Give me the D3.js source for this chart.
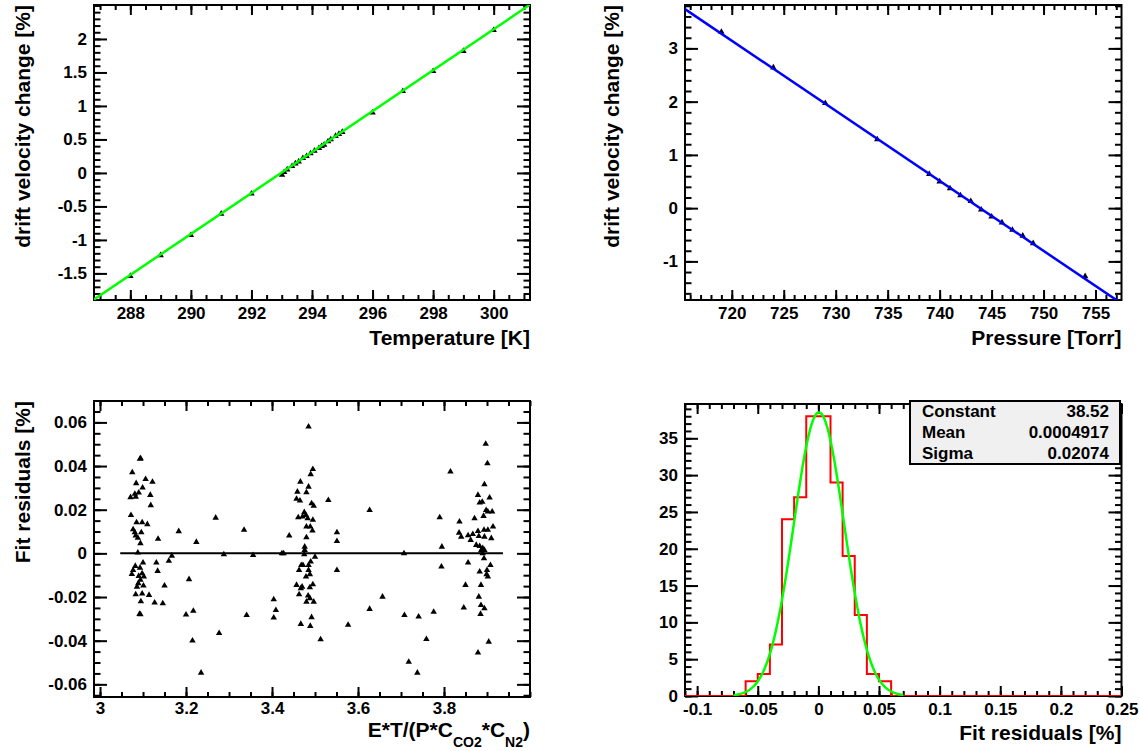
<!DOCTYPE html>
<html>
<head>
<meta charset="utf-8">
<script src="https://cdn.jsdelivr.net/npm/d3@7"></script>
<style>
  body { margin: 0; background: #fff; }
  svg text { font-family: "Liberation Sans", Arial, Helvetica, sans-serif; font-weight: bold; fill: #000; }
</style>
</head>
<body>
<svg id="chart" width="1139" height="751"></svg>
<script>
// ---- Temperature scan: drift velocity change vs temperature ----
const temperature = [288, 289, 290, 291, 292, 293.01, 293.08, 293.18, 293.34, 293.45, 293.56, 293.70, 293.82, 293.95,
  294.08, 294.23, 294.32, 294.40, 294.53, 294.62, 294.78, 294.89, 295.00, 296, 297, 298, 299, 300];
const tempChange = [-1.54, -1.23, -0.93, -0.61, -0.31, -0.03, 0.01, 0.05, 0.10, 0.14, 0.17, 0.22, 0.25, 0.29,
  0.33, 0.37, 0.40, 0.42, 0.47, 0.50, 0.55, 0.58, 0.61, 0.90, 1.22, 1.52, 1.82, 2.13];
const tempFitSlope = 0.3057;   // % per K
const tempFitZero = 292.98;    // K
const tempTicks = [288, 290, 292, 294, 296, 298, 300];
const tempTickLabels = ["288", "290", "292", "294", "296", "298", "300"];
const tempChangeTicks = [-1.5, -1, -0.5, 0, 0.5, 1, 1.5, 2];
const tempChangeTickLabels = ["-1.5", "-1", "-0.5", "0", "0.5", "1", "1.5", "2"];

// ---- Pressure scan: drift velocity change vs pressure ----
const pressure = [719, 724, 729, 734, 739, 740, 741, 742, 743, 744, 745, 746, 747, 748, 749, 754];
const pressChange = [3.31, 2.64, 1.97, 1.29, 0.64, 0.50, 0.37, 0.24, 0.13, -0.03, -0.16, -0.27, -0.41, -0.52, -0.66, -1.28];
const pressFitSlope = -0.1316; // % per Torr
const pressFitZero = 743.9;    // Torr
const pressTicks = [720, 725, 730, 735, 740, 745, 750, 755];
const pressTickLabels = ["720", "725", "730", "735", "740", "745", "750", "755"];
const pressChangeTicks = [-1, 0, 1, 2, 3];
const pressChangeTickLabels = ["-1", "0", "1", "2", "3"];

// ---- Fit residuals vs reduced field E*T/(P*C_CO2*C_N2) ----
const reducedField = [
  3.0945, 3.093, 3.075, 3.106, 3.084, 3.122, 3.099, 3.090, 3.081, 3.071, 3.083, 3.117, 3.118, 3.072, 3.085,
  3.098, 3.110, 3.077, 3.081, 3.096, 3.083, 3.088, 3.183, 3.135, 3.224, 3.094, 3.088, 3.167, 3.160, 3.100,
  3.131, 3.082, 3.093, 3.077, 3.134, 3.074, 3.098, 3.090, 3.102, 3.094, 3.089, 3.101, 3.150, 3.207, 3.086,
  3.083, 3.098, 3.114, 3.095, 3.127, 3.146, 3.092, 3.094, 3.200, 3.217,
  3.269, 3.335, 3.288, 3.215, 3.235, 3.277, 3.341,
  3.577, 3.627, 3.657, 3.627, 3.707, 3.708, 3.718, 3.738, 3.741,
  3.485, 3.495, 3.490, 3.466, 3.485, 3.459, 3.480, 3.457, 3.465, 3.531, 3.492, 3.497, 3.475, 3.479, 3.461,
  3.471, 3.483, 3.495, 3.480, 3.489, 3.494, 3.440, 3.480, 3.551, 3.551, 3.476, 3.476, 3.423, 3.427, 3.356,
  3.475, 3.500, 3.490, 3.472, 3.485, 3.468, 3.463, 3.485, 3.488, 3.479, 3.551, 3.457, 3.470, 3.488, 3.495,
  3.467, 3.463, 3.484, 3.488, 3.480, 3.497, 3.404, 3.409, 3.404, 3.492, 3.467, 3.489, 3.513,
  3.897, 3.901, 3.815, 3.894, 3.879, 3.906, 3.883, 3.889, 3.898, 3.902, 3.912, 3.790, 3.836, 3.871, 3.892,
  3.914, 3.835, 3.840, 3.856, 3.867, 3.879, 3.893, 3.902, 3.881, 3.894, 3.910, 3.862, 3.875, 3.883, 3.890,
  3.886, 3.894, 3.795, 3.890, 3.893, 3.856, 3.794, 3.908, 3.883, 3.900, 3.899, 3.902, 3.850, 3.886, 3.881,
  3.886, 3.894, 3.846, 3.885, 3.776, 3.759, 3.904, 3.879
];
const fitResidual = [
  0.0435, 0.0433, 0.0371, 0.0340, 0.0321, 0.0327, 0.0301, 0.0278, 0.0272, 0.0257, 0.0259, 0.0267, 0.0220, 0.0175, 0.0142,
  0.0142, 0.0133, 0.0110, 0.0096, 0.0096, 0.0081, 0.0071, 0.0101, 0.0066, 0.0052, 0.0046, 0.0003, -0.0011, -0.0035, -0.0043,
  -0.0043, -0.0058, -0.0066, -0.0077, -0.0081, -0.0095, -0.0092, -0.0104, -0.0107, -0.0122, -0.0137, -0.0148, -0.0148, -0.0119, -0.0153,
  -0.0188, -0.0185, -0.0191, -0.0220, -0.0226, -0.0229, -0.0278, -0.0280, -0.0281, -0.0264,
  0.0163, 0.0107, -0.0005, -0.0400, -0.0547, -0.0366, -0.0283,
  -0.0328, -0.0255, -0.0199, 0.0198, 0.0000, -0.0283, -0.0497, -0.0547, -0.0290,
  0.0580, 0.0386, 0.0362, 0.0328, 0.0305, 0.0282, 0.0279, 0.0249, 0.0241, 0.0244, 0.0229, 0.0218, 0.0188, 0.0175, 0.0165,
  0.0168, 0.0160, 0.0153, 0.0122, 0.0122, 0.0104, 0.0081, 0.0073, 0.0096, 0.0056, 0.0030, 0.0015, 0.0000, 0.0000, -0.0008,
  -0.0005, -0.0016, -0.0038, -0.0054, -0.0054, -0.0054, -0.0077, -0.0077, -0.0096, -0.0107, -0.0077, -0.0145, -0.0153, -0.0156, -0.0142,
  -0.0160, -0.0188, -0.0194, -0.0206, -0.0222, -0.0222, -0.0211, -0.0260, -0.0295, -0.0293, -0.0324, -0.0333, -0.0394,
  0.0501, 0.0412, 0.0374, 0.0316, 0.0267, 0.0255, 0.0232, 0.0236, 0.0198, 0.0191, 0.0191, 0.0165, 0.0145, 0.0160, 0.0171,
  0.0122, 0.0094, 0.0076, 0.0082, 0.0088, 0.0102, 0.0107, 0.0107, 0.0079, 0.0076, 0.0069, 0.0061, 0.0038, 0.0033, 0.0023,
  0.0012, 0.0015, 0.0030, 0.0000, -0.0023, -0.0043, -0.0061, -0.0054, -0.0084, -0.0077, -0.0096, -0.0107, -0.0145, -0.0145, -0.0199,
  -0.0237, -0.0252, -0.0249, -0.0278, -0.0268, -0.0393, -0.0405, -0.0455
];
const fieldTicks = [3, 3.2, 3.4, 3.6, 3.8];
const fieldTickLabels = ["3", "3.2", "3.4", "3.6", "3.8"];
const residualTicks = [-0.06, -0.04, -0.02, 0, 0.02, 0.04, 0.06];
const residualTickLabels = ["-0.06", "-0.04", "-0.02", "0", "0.02", "0.04", "0.06"];
const zeroLineRange = [3.047, 3.937];

// ---- Distribution of fit residuals with Gaussian fit ----
const histLowEdge = -0.06;
const histBinWidth = 0.01;
const histCounts = [2, 3, 7, 24, 27, 38, 38, 29, 19, 11, 3, 2];
const gausConstant = 38.52;
const gausMean = 0.0004917;
const gausSigma = 0.02074;
const gausRange = [-0.07, 0.07];
const statsNames = ["Constant", "Mean", "Sigma"];
const statsValues = ["38.52", "0.0004917", "0.02074"];
const histTicks = [-0.1, -0.05, 0, 0.05, 0.1, 0.15, 0.2, 0.25];
const histTickLabels = ["-0.1", "-0.05", "0", "0.05", "0.1", "0.15", "0.2", "0.25"];
const countTicks = [0, 5, 10, 15, 20, 25, 30, 35];
const countTickLabels = ["0", "5", "10", "15", "20", "25", "30", "35"];

const svg = d3.select("#chart");
const TICK_FONT = 17, TITLE_FONT = 21;

// Builds a framed panel with inward ticks on all four sides.
function makePanel(id, box, xDomain, yDomain, ax) {
  const x = d3.scaleLinear().domain(xDomain).range([box.l, box.r]);
  const y = d3.scaleLinear().domain(yDomain).range([box.b, box.t]);
  const g = svg.append("g");

  svg.append("clipPath").attr("id", id).append("rect")
    .attr("x", box.l).attr("y", box.t).attr("width", box.r - box.l).attr("height", box.b - box.t);

  const xt = 10, yt = 13;
  const xPad = ax.xPad == null ? 7 : ax.xPad;
  const styleAxis = sel => {
    sel.select(".domain").remove();
    sel.attr("font-size", TICK_FONT).attr("font-family", null);
    sel.selectAll("line").attr("stroke", "#000").attr("stroke-width", 2);
  };
  const xMinor = d3.range(ax.xMinorStart, xDomain[1] + 1e-9, ax.xMinorStep);
  const yMinor = d3.range(ax.yMinorStart, yDomain[1] + 1e-9, ax.yMinorStep);

  // bottom
  g.append("g").attr("transform", `translate(0,${box.b})`)
    .call(d3.axisBottom(x).tickValues(ax.xTicks).tickSizeInner(-xt).tickSizeOuter(0).tickPadding(xPad)
      .tickFormat((d, i) => ax.xLabels[i])).call(styleAxis);
  g.append("g").attr("transform", `translate(0,${box.b})`)
    .call(d3.axisBottom(x).tickValues(xMinor).tickSizeInner(-xt / 2).tickSizeOuter(0).tickFormat("")).call(styleAxis);
  // top
  g.append("g").attr("transform", `translate(0,${box.t})`)
    .call(d3.axisTop(x).tickValues(ax.xTicks).tickSizeInner(-xt).tickSizeOuter(0).tickFormat("")).call(styleAxis);
  g.append("g").attr("transform", `translate(0,${box.t})`)
    .call(d3.axisTop(x).tickValues(xMinor).tickSizeInner(-xt / 2).tickSizeOuter(0).tickFormat("")).call(styleAxis);
  // left
  g.append("g").attr("transform", `translate(${box.l},0)`)
    .call(d3.axisLeft(y).tickValues(ax.yTicks).tickSizeInner(-yt).tickSizeOuter(0).tickPadding(7)
      .tickFormat((d, i) => ax.yLabels[i])).call(styleAxis);
  g.append("g").attr("transform", `translate(${box.l},0)`)
    .call(d3.axisLeft(y).tickValues(yMinor).tickSizeInner(-yt / 2).tickSizeOuter(0).tickFormat("")).call(styleAxis);
  // right
  g.append("g").attr("transform", `translate(${box.r},0)`)
    .call(d3.axisRight(y).tickValues(ax.yTicks).tickSizeInner(-yt).tickSizeOuter(0).tickFormat("")).call(styleAxis);
  g.append("g").attr("transform", `translate(${box.r},0)`)
    .call(d3.axisRight(y).tickValues(yMinor).tickSizeInner(-yt / 2).tickSizeOuter(0).tickFormat("")).call(styleAxis);

  // frame
  g.append("rect").attr("x", box.l).attr("y", box.t).attr("width", box.r - box.l).attr("height", box.b - box.t)
    .attr("fill", "none").attr("stroke", "#000").attr("stroke-width", 2);

  const plot = svg.append("g").attr("clip-path", `url(#${id})`);
  return { x, y, plot };
}

function yTitle(text, xBase, yEnd) {
  svg.append("text").attr("transform", `translate(${xBase},${yEnd}) rotate(-90)`)
    .attr("text-anchor", "end").attr("font-size", TITLE_FONT).text(text);
}
function xTitle(text, xEnd, yBase) {
  svg.append("text").attr("x", xEnd).attr("y", yBase).attr("text-anchor", "end")
    .attr("font-size", TITLE_FONT).text(text);
}

const tri = d3.symbol().type(d3.symbolTriangle).size(18);

// ===== Panel 1: temperature =====
{
  const box = { l: 94, r: 530, t: 5, b: 300 };
  const p = makePanel("clipT", box, [286.8, 301.2], [-1.897, 2.507], {
    xTicks: tempTicks, xLabels: tempTickLabels, xMinorStart: 287, xMinorStep: 0.5,
    yTicks: tempChangeTicks, yLabels: tempChangeTickLabels, yMinorStart: -1.8, yMinorStep: 0.1
  });
  p.plot.selectAll("path.pt").data(temperature).enter().append("path")
    .attr("d", tri).attr("fill", "#000")
    .attr("transform", (d, i) => `translate(${p.x(d)},${p.y(tempChange[i])})`);
  const xs = p.x.domain();
  p.plot.append("line")
    .attr("x1", p.x(xs[0])).attr("y1", p.y(tempFitSlope * (xs[0] - tempFitZero)))
    .attr("x2", p.x(xs[1])).attr("y2", p.y(tempFitSlope * (xs[1] - tempFitZero)))
    .attr("stroke", "#00ff00").attr("stroke-width", 2.5);
  yTitle("drift velocity change [%]", 29.5, 5);
  xTitle("Temperature [K]", 530, 345);
}

// ===== Panel 2: pressure =====
{
  const box = { l: 685, r: 1121.5, t: 5, b: 300 };
  const p = makePanel("clipP", box, [715.5, 757.5], [-1.725, 3.815], {
    xTicks: pressTicks, xLabels: pressTickLabels, xMinorStart: 716, xMinorStep: 1,
    yTicks: pressChangeTicks, yLabels: pressChangeTickLabels, yMinorStart: -1.6, yMinorStep: 0.2
  });
  p.plot.selectAll("path.pt").data(pressure).enter().append("path")
    .attr("d", tri).attr("fill", "#000")
    .attr("transform", (d, i) => `translate(${p.x(d)},${p.y(pressChange[i])})`);
  const xs = p.x.domain();
  p.plot.append("line")
    .attr("x1", p.x(xs[0])).attr("y1", p.y(pressFitSlope * (xs[0] - pressFitZero)))
    .attr("x2", p.x(xs[1])).attr("y2", p.y(pressFitSlope * (xs[1] - pressFitZero)))
    .attr("stroke", "#0000ff").attr("stroke-width", 2.5);
  yTitle("drift velocity change [%]", 619, 5);
  xTitle("Pressure [Torr]", 1121.5, 345);
}

// ===== Panel 3: residuals vs reduced field =====
{
  const box = { l: 94, r: 530, t: 401, b: 697 };
  const p = makePanel("clipR", box, [2.986, 4.0], [-0.0658, 0.0698], {
    xTicks: fieldTicks, xLabels: fieldTickLabels, xMinorStart: 3.0, xMinorStep: 0.05, xPad: 5,
    yTicks: residualTicks, yLabels: residualTickLabels, yMinorStart: -0.065, yMinorStep: 0.005
  });
  p.plot.selectAll("path.pt").data(reducedField).enter().append("path")
    .attr("d", tri).attr("fill", "#000")
    .attr("transform", (d, i) => `translate(${p.x(d)},${p.y(fitResidual[i])})`);
  p.plot.append("line")
    .attr("x1", p.x(zeroLineRange[0])).attr("y1", p.y(0))
    .attr("x2", p.x(zeroLineRange[1])).attr("y2", p.y(0))
    .attr("stroke", "#000").attr("stroke-width", 2);
  yTitle("Fit residuals [%]", 30, 401);
  const t = svg.append("text").attr("x", 530).attr("y", 737).attr("text-anchor", "end").attr("font-size", TITLE_FONT);
  t.append("tspan").text("E*T/(P*C");
  t.append("tspan").attr("dy", 10).attr("font-size", 14).text("CO2");
  t.append("tspan").attr("dy", -10).text("*C");
  t.append("tspan").attr("dy", 10).attr("font-size", 14).text("N2");
  t.append("tspan").attr("dy", -10).text(")");
}

// ===== Panel 4: residual histogram =====
{
  const box = { l: 685, r: 1121.5, t: 404, b: 696 };
  const p = makePanel("clipH", box, [-0.11, 0.25], [0, 39.66], {
    xTicks: histTicks, xLabels: histTickLabels, xMinorStart: -0.11, xMinorStep: 0.01,
    yTicks: countTicks, yLabels: countTickLabels, yMinorStart: 0, yMinorStep: 1
  });
  // step outline of the histogram, empty bins at zero
  const xs = p.x.domain();
  const pts = [[xs[0], 0], [histLowEdge, 0]];
  histCounts.forEach((c, i) => {
    const lo = histLowEdge + i * histBinWidth;
    pts.push([lo, c], [lo + histBinWidth, c]);
  });
  pts.push([histLowEdge + histCounts.length * histBinWidth, 0], [xs[1], 0]);
  p.plot.append("path")
    .attr("d", d3.line().x(d => p.x(d[0])).y(d => p.y(d[1]))(pts))
    .attr("fill", "none").attr("stroke", "#ff0000").attr("stroke-width", 2);
  // Gaussian fit
  const gx = d3.range(gausRange[0], gausRange[1] + 1e-9, (gausRange[1] - gausRange[0]) / 200);
  p.plot.append("path")
    .attr("d", d3.line().x(d => p.x(d))
      .y(d => p.y(gausConstant * Math.exp(-0.5 * Math.pow((d - gausMean) / gausSigma, 2))))(gx))
    .attr("fill", "none").attr("stroke", "#00ff00").attr("stroke-width", 2.5);

  // fit statistics box
  const sb = { l: 910, t: 401, r: 1120, b: 464 };
  svg.append("rect").attr("x", sb.l).attr("y", sb.t).attr("width", sb.r - sb.l).attr("height", sb.b - sb.t)
    .attr("fill", "#f0f0f0").attr("stroke", "#000").attr("stroke-width", 2);
  statsNames.forEach((n, i) => {
    svg.append("text").attr("x", 922).attr("y", 417 + i * 21).attr("font-size", TICK_FONT).text(n);
    svg.append("text").attr("x", 1109).attr("y", 417 + i * 21).attr("font-size", TICK_FONT)
      .attr("text-anchor", "end").text(statsValues[i]);
  });
  xTitle("Fit residuals [%]", 1121.5, 740);
}
</script>
</body>
</html>
